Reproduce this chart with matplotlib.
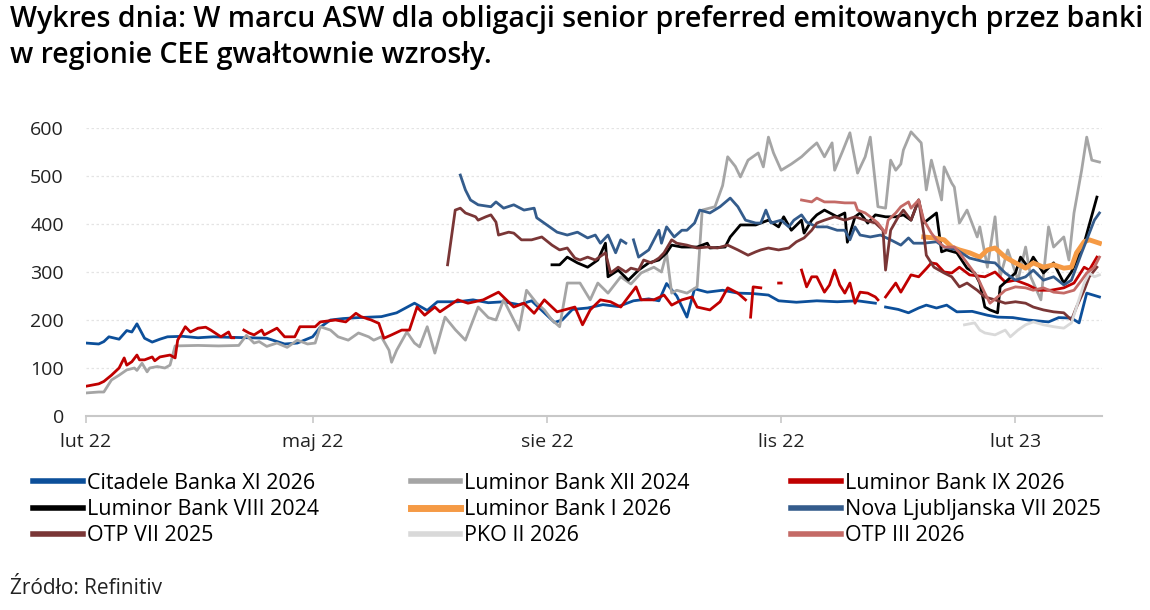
import matplotlib
matplotlib.use("Agg")
import matplotlib.pyplot as plt
import numpy as np
import pandas as pd

nan = np.nan
start_date = pd.Timestamp("2022-02-01")

# dni od 1 lutego 2022 / wartosci ASW (pb)
citadele_days = [0, 5, 7, 9, 13, 16, 18, 20, 23, 26, 29, 32, 38, 44, 50, 56, 64, 71, 78, 83,
                 89, 92, 96, 101, 107, 116, 122, 129, 134, 138, 146, 152, 158, 164, 170, 175, 179, 184, 187, 191,
                 197, 203, 209, 215, 221, 225, 228, 232, 236, 239, 244, 250, 256, 262, 268, 272, 279, 287, 295, 303,
                 310, 312, 314, 319, 323, 327, 330, 334, 338, 342, 348, 354, 358, 364, 370, 378, 382, 387, 390, 393, 398]
citadele_vals = [152, 150, 155, 165, 160, 178, 175, 192, 162, 154, 160, 165, 166, 163, 165, 164, 163, 162, 150, 152,
                 165, 185, 200, 203, 205, 207, 215, 235, 220, 238, 238, 242, 236, 238, 232, 240, 220, 195, 200, 222,
                 225, 232, 228, 240, 244, 240, 276, 250, 206, 265, 258, 262, 256, 255, 252, 240, 237, 240, 238, 240,
                 235, nan, 227, 222, 215, 225, 231, 225, 231, 217, 218, 210, 206, 205, 200, 196, 205, 204, 194, 256, 248]

lum_xii_days = [0, 5, 7, 10, 13, 16, 19, 20, 22, 24, 25, 28, 31, 33, 35, 44, 52, 60, 63, 66,
                68, 71, 75, 79, 83, 87, 90, 92, 96, 99, 103, 107, 111, 113, 116, 119, 120, 122, 126, 129,
                131, 134, 137, 141, 145, 149, 154, 158, 161, 164, 170, 173, 177, 180, 183, 186, 189, 194, 198, 201,
                205, 210, 214, 218, 223, 226, 228, 230, 232, 236, 240, 242, 247, 250, 252, 255, 257, 260, 264, 266,
                268, 270, 273, 277, 281, 284, 287, 290, 293, 294, 297, 300, 303, 306, 308, 311, 314, 316, 318, 320,
                321, 324, 328, 330, 332, 336, 337, 340, 341, 343, 346, 350, 351, 354, 357, 359, 362, 366, 369, 371,
                375, 378, 380, 384, 386, 388, 391, 393, 395, 398]
lum_xii_vals = [48, 50, 50, 75, 85, 96, 100, 95, 110, 92, 100, 103, 100, 106, 146, 147, 146, 147, 168, 152,
                155, 145, 152, 143, 158, 150, 152, 186, 179, 165, 158, 173, 165, 158, 165, 137, 112, 137, 175, 152,
                144, 186, 131, 206, 180, 158, 227, 205, 200, 242, 179, 262, 235, 221, 200, 186, 277, 277, 242, 277,
                256, 290, 275, 298, 310, 300, 340, 256, 262, 256, 269, 429, 436, 480, 540, 520, 498, 533, 548, 519,
                581, 548, 512, 525, 540, 555, 569, 540, 569, 512, 550, 590, 506, 540, 581, 436, 433, 533, 512, 525,
                554, 592, 569, 471, 533, 450, 519, 485, 477, 402, 429, 373, 394, 310, 415, 290, 346, 283, 352, 290,
                242, 394, 352, 373, 325, 423, 512, 581, 533, 529]

lum_ix_days = [0, 5, 7, 10, 13, 15, 16, 18, 20, 21, 23, 26, 27, 29, 33, 35, 36, 39, 41, 44,
               47, 49, 53, 56, 57, 58, 61, 62, 64, 66, 69, 70, 75, 78, 82, 84, 90, 92, 98, 102,
               106, 108, 112, 115, 117, 120, 124, 127, 130, 133, 137, 139, 146, 150, 156, 162, 168, 172, 176, 180,
               185, 192, 195, 198, 202, 206, 210, 216, 218, 223, 227, 230, 234, 238, 240, 245, 249, 252, 256, 259,
               260, 261, 262, 265, 267, 272, 273, 275, 281, 283, 285, 287, 290, 292, 294, 296, 298, 300, 302, 304,
               307, 310, 311, 312, 314, 318, 320, 324, 327, 330, 332, 334, 337, 340, 343, 347, 353, 357, 361, 365,
               370, 374, 379, 384, 388, 392, 394, 397]
lum_ix_vals = [62, 67, 72, 85, 100, 121, 106, 113, 127, 117, 117, 123, 115, 123, 127, 121, 158, 186, 175, 183,
               185, 179, 165, 175, 163, 163, nan, 179, 173, 169, 179, 169, 183, 165, 165, 186, 186, 196, 200, 196,
               214, 207, 200, 193, 162, 169, 179, 179, 227, 210, 227, 217, 242, 235, 242, 258, 227, 235, 214, 242,
               217, 227, 190, 221, 242, 238, 227, 269, 242, 242, 252, 231, 242, 248, 227, 221, 238, 267, 256, 242,
               nan, 206, 269, 267, nan, 277, 277, nan, 304, 269, 290, 290, 258, 273, 304, 273, 256, 277, 235, 258,
               256, 248, 242, nan, 248, 277, 258, 294, 290, 307, 319, 317, 300, 298, 310, 294, 290, 300, 279, 283,
               273, 262, 262, 267, 277, 310, 304, 331]

lum_viii_days = [183, 186, 189, 193, 197, 201, 204, 205, 209, 213, 217, 221, 225, 228, 230, 234, 240, 244, 245, 251,
                 253, 257, 263, 268, 272, 274, 277, 281, 282, 285, 287, 290, 295, 298, 299, 302, 304, 307, 310, 314,
                 318, 321, 324, 327, 329, 334, 336, 338, 342, 346, 349, 351, 353, 355, 358, 359, 365, 367, 370, 372,
                 376, 380, 384, 387, 392, 397]
lum_viii_vals = [315, 315, 331, 319, 310, 325, 360, 290, 304, 283, 304, 319, 325, 340, 356, 352, 352, 360, 350, 352,
                 373, 398, 398, 408, 394, 415, 387, 408, 381, 408, 419, 429, 415, 423, 362, 415, 423, 402, 419, 415,
                 415, 419, 408, 450, 402, 423, 342, 346, 340, 308, 298, 277, 227, 221, 215, 269, 298, 331, 310, 331,
                 298, 319, 277, 300, 360, 456]

lum_i_days = [329, 333, 337, 340, 343, 347, 351, 354, 357, 361, 365, 369, 372, 376, 380, 384, 387, 389, 392, 394, 398]
lum_i_vals = [373, 371, 367, 352, 346, 340, 331, 346, 350, 331, 319, 308, 319, 310, 315, 308, 310, 340, 363, 367, 360]

nova_days = [147, 149, 151, 154, 159, 161, 164, 168, 172, 176, 177, 181, 185, 189, 193, 197, 200, 202, 205, 208,
             210, 212, 214, 215, 217, 221, 225, 226, 228, 231, 234, 236, 239, 241, 245, 249, 253, 256, 259, 263,
             265, 267, 269, 273, 276, 278, 281, 283, 287, 291, 295, 298, 300, 302, 304, 308, 312, 316, 320, 323,
             325, 329, 334, 337, 342, 347, 353, 357, 361, 365, 369, 372, 376, 380, 384, 387, 391, 393, 396, 398]
nova_vals = [502, 471, 450, 440, 436, 446, 433, 440, 429, 433, 413, 398, 383, 377, 383, 371, 377, 360, 377, 340,
             367, 360, nan, 367, 331, 346, 387, 360, 394, 373, 387, 387, 402, 429, 423, 436, 454, 436, 408, 402,
             402, 429, 402, 408, 394, 408, 419, 404, 394, 394, 387, 387, 367, 394, 377, 373, 377, 367, 356, 371,
             360, 360, 363, 352, 346, 329, 321, 319, 298, 283, 290, 304, 283, 290, 273, 283, 340, 367, 408, 423]

otp_vii_days = [142, 145, 147, 149, 153, 154, 157, 159, 161, 162, 166, 168, 171, 175, 179, 183, 186, 189, 192, 194,
                197, 200, 204, 206, 209, 212, 214, 217, 219, 222, 225, 227, 230, 232, 236, 240, 244, 248, 252, 256,
                260, 263, 265, 268, 272, 276, 279, 282, 285, 287, 290, 294, 298, 302, 306, 310, 313, 314, 316, 319,
                321, 324, 327, 329, 330, 333, 337, 340, 343, 346, 350, 353, 357, 361, 365, 369, 372, 376, 380, 384,
                387, 389, 392, 394, 397]
otp_vii_vals = [315, 429, 433, 423, 415, 408, 415, 419, 404, 377, 383, 381, 367, 367, 373, 356, 346, 350, 329, 325,
                331, 325, 340, 298, 310, 300, 308, 304, 325, 319, 329, 340, 367, 360, 356, 350, 352, 350, 356, 346,
                335, 342, 346, 350, 346, 350, 363, 371, 387, 402, 408, 415, 408, 415, 408, 402, 387, 304, 387, 415,
                429, 408, 450, 381, 335, 310, 298, 290, 269, 277, 262, 248, 242, 235, 238, 235, 227, 221, 217, 215,
                200, 227, 262, 290, 310]

pko_days = [345, 349, 351, 353, 357, 361, 363, 366, 369, 372, 376, 380, 384, 387, 389, 392, 394, 396, 398]
pko_vals = [190, 194, 179, 173, 169, 179, 165, 179, 190, 196, 190, 186, 183, 194, 227, 277, 298, 290, 294]

otp_iii_days = [281, 285, 287, 290, 294, 298, 302, 303, 306, 308, 311, 314, 315, 318, 320, 323, 324, 327, 329, 332,
                334, 337, 341, 343, 346, 350, 353, 355, 358, 361, 365, 369, 372, 376, 380, 384, 388, 391, 393, 396, 398]
otp_iii_vals = [450, 446, 454, 446, 446, 444, 444, 429, 423, 415, 402, 381, 408, 423, 436, 446, 433, 450, 408, 381,
                367, 352, 352, 340, 319, 290, 256, 235, 248, 262, 269, 267, 262, 267, 258, 256, 262, 283, 298, 310, 331]

series = [
    ("Citadele Banka XI 2026", citadele_days, citadele_vals, "#0c4f9a", 2.0),
    ("Luminor Bank XII 2024", lum_xii_days, lum_xii_vals, "#a5a5a5", 2.0),
    ("Luminor Bank IX 2026", lum_ix_days, lum_ix_vals, "#c00000", 2.0),
    ("Luminor Bank VIII 2024", lum_viii_days, lum_viii_vals, "#000000", 2.0),
    ("Luminor Bank I 2026", lum_i_days, lum_i_vals, "#f59a45", 3.5),
    ("Nova Ljubljanska VII 2025", nova_days, nova_vals, "#345c8c", 2.0),
    ("OTP VII 2025", otp_vii_days, otp_vii_vals, "#7a3636", 2.0),
    ("PKO II 2026", pko_days, pko_vals, "#d9d9d9", 2.0),
    ("OTP III 2026", otp_iii_days, otp_iii_vals, "#c46a66", 2.0),
]

tick_dates = ["2022-02-01", "2022-05-01", "2022-08-01", "2022-11-01", "2023-02-01"]
tick_labels = ["lut 22", "maj 22", "sie 22", "lis 22", "lut 23"]

title_lines = ["Wykres dnia: W marcu ASW dla obligacji senior preferred emitowanych przez banki",
               "w regionie CEE gwałtownie wzrosły."]

plt.rcParams["font.family"] = ["Open Sans", "DejaVu Sans"]

fig = plt.figure(figsize=(11.5, 6.1), dpi=100)
ax = fig.add_axes([86 / 1150, 1 - 416 / 610, (1102 - 86) / 1150, (416 - 128) / 610])

for name, days, vals, color, lw in series:
    x = start_date + pd.to_timedelta(days, unit="D")
    ax.plot(x, vals, color=color, lw=lw, label=name, solid_joinstyle="round")

ax.set_xlim(start_date, start_date + pd.Timedelta(days=399))
ax.set_ylim(0, 600)
ax.set_yticks(range(0, 601, 100))
ax.set_xticks(pd.to_datetime(tick_dates))
ax.set_xticklabels(tick_labels)

ax.grid(axis="y", color="#e4e4e4", linestyle=(0, (2, 2)), lw=0.9)
ax.set_axisbelow(True)
for spine in ["top", "right", "left"]:
    ax.spines[spine].set_visible(False)
ax.spines["bottom"].set_color("#c8c8c8")
ax.spines["bottom"].set_linewidth(1.5)
ax.tick_params(axis="y", length=0, pad=16, labelsize=14, labelcolor="#222222")
ax.tick_params(axis="x", length=5, width=1.2, color="#c8c8c8", pad=7, labelsize=14, labelcolor="#222222")

fig.text(0.009, 1 - 19 / 610, title_lines[0], fontsize=20.5, fontweight="semibold", va="center", ha="left")
fig.text(0.009, 1 - 56 / 610, title_lines[1], fontsize=20.5, fontweight="semibold", va="center", ha="left")

# legenda w trzech kolumnach
cols_x = [0.029, 0.357, 0.688]
for c in range(3):
    idx = [c, c + 3, c + 6]
    hs = [plt.Line2D([], [], color=series[i][3], lw=4 if i != 4 else 5) for i in idx]
    fig.legend(hs, [series[i][0] for i in idx], loc="upper left", bbox_to_anchor=(cols_x[c], 1 - 473 / 610),
               frameon=False, fontsize=15.5, handlelength=2.3, handletextpad=0.2, labelspacing=0.24,
               borderpad=0, borderaxespad=0)

fig.text(0.009, 1 - 589 / 610, "Źródło: Refinitiv", fontsize=15, va="center", ha="left", color="#222222")

fig.savefig("out.png", dpi=100)
